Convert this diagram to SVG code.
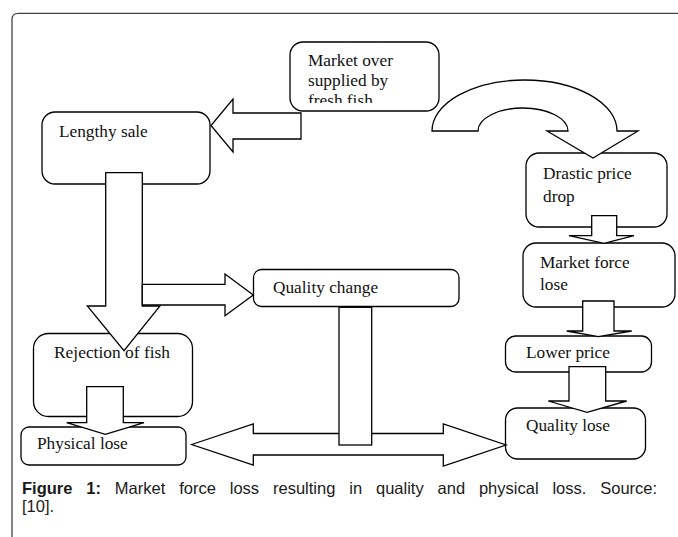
<svg xmlns="http://www.w3.org/2000/svg" width="678" height="537" viewBox="0 0 678 537">
<style>
.box{fill:#fff;stroke:#000;stroke-width:1.3}
.arr{fill:#fff;stroke:#000;stroke-width:1.3;stroke-linejoin:miter}
.t{font-family:"Liberation Serif","Times New Roman",serif;font-size:17.3px;fill:#111}
.cap{font-family:"Liberation Sans",Arial,sans-serif;font-size:16.5px;fill:#1a1a1a}
</style>
<defs>
<clipPath id="clipMarket"><rect x="290" y="42" width="149" height="61"/></clipPath>
</defs>
<rect x="0" y="0" width="678" height="537" fill="#fff"/>
<path d="M12,537 V19.5 Q12,13.3 18.5,13.3 H678" fill="none" stroke="#444" stroke-width="1.3"/>

<g id="node-market">
<rect class="box" x="290" y="42" width="149" height="69" rx="13"/>
<g clip-path="url(#clipMarket)">
<text class="t" x="308" y="66">Market over</text>
<text class="t" x="308" y="86">supplied by</text>
<text class="t" x="308" y="106">fresh fish</text>
</g>
</g>
<g id="node-lengthy">
<rect class="box" x="42" y="112" width="168" height="72" rx="13"/>
<text class="t" x="59" y="137">Lengthy sale</text>
</g>
<g id="node-drastic">
<rect class="box" x="526" y="153" width="141" height="74" rx="13"/>
<text class="t" x="543" y="179">Drastic price</text>
<text class="t" x="543" y="202">drop</text>
</g>
<g id="node-marketforce">
<rect class="box" x="523" y="243" width="152" height="64" rx="13"/>
<text class="t" x="540" y="268">Market force</text>
<text class="t" x="540" y="290">lose</text>
</g>
<g id="node-lower">
<rect class="box" x="505.5" y="336" width="146" height="36" rx="10"/>
<text class="t" x="526" y="358">Lower price</text>
</g>
<g id="node-qualitylose">
<rect class="box" x="505.5" y="408" width="140" height="51" rx="12"/>
<text class="t" x="526" y="431">Quality lose</text>
</g>
<g id="node-qualitychange">
<rect class="box" x="253.5" y="269.5" width="205.5" height="37" rx="8"/>
<text class="t" x="273" y="293">Quality change</text>
</g>
<g id="node-rejection">
<rect class="box" x="33.5" y="333.5" width="159" height="83" rx="15"/>
</g>
<g id="node-physical">
<rect class="box" x="21" y="427" width="165" height="38" rx="8"/>
<text class="t" x="37" y="449">Physical lose</text>
</g>

<g id="connectors">
<polygon class="arr" points="301,113 233,113 233,99 211,125.5 233,152 233,139 301,139"/>
<path class="arr" d="M432,131 A92.5,51 0 0 1 617,131 L638,131 L593,158 L547,131 L568,131 A45,23 0 0 0 478,131 Z"/>
<polygon class="arr" points="105.7,172.7 142.3,172.7 142.3,306 160,306 124,350.7 87.3,306 105.7,306"/>
<polygon class="arr" points="142.3,284.3 225,284.3 225,274 253.3,295 225,315.7 225,305 142.3,305"/>
<polygon class="arr" points="86.7,386.7 123.3,386.7 123.3,422.7 144,422.7 105.3,434.3 66.7,422.7 86.7,422.7"/>
<polygon class="arr" points="191.7,444.5 253.3,424 253.3,433.5 443.3,433.5 443.3,424 506,445 443.3,466 443.3,455 253.3,455 253.3,465"/>
<rect class="arr" x="339" y="307.3" width="32.7" height="137.7"/>
<polygon class="arr" points="591.7,215.7 616.7,215.7 616.7,235.7 634,235.7 604,243.3 569,235.7 591.7,235.7"/>
<polygon class="arr" points="582.7,301 614,301 614,331 631.7,331 598.3,336.7 566.7,331 582.7,331"/>
<polygon class="arr" points="569,366.7 605.7,366.7 605.7,401 626.7,401 587,412.3 548.3,401 569,401"/>
</g>

<text class="t" x="54" y="358" textLength="116" lengthAdjust="spacingAndGlyphs">Rejection of fish</text>

<g id="caption">
<text class="cap" x="22" y="494" style="word-spacing:9.3px"><tspan font-weight="bold">Figure 1:</tspan> Market force loss resulting in quality and physical loss. Source:</text>
<text class="cap" x="22" y="512">[10].</text>
</g>
</svg>
